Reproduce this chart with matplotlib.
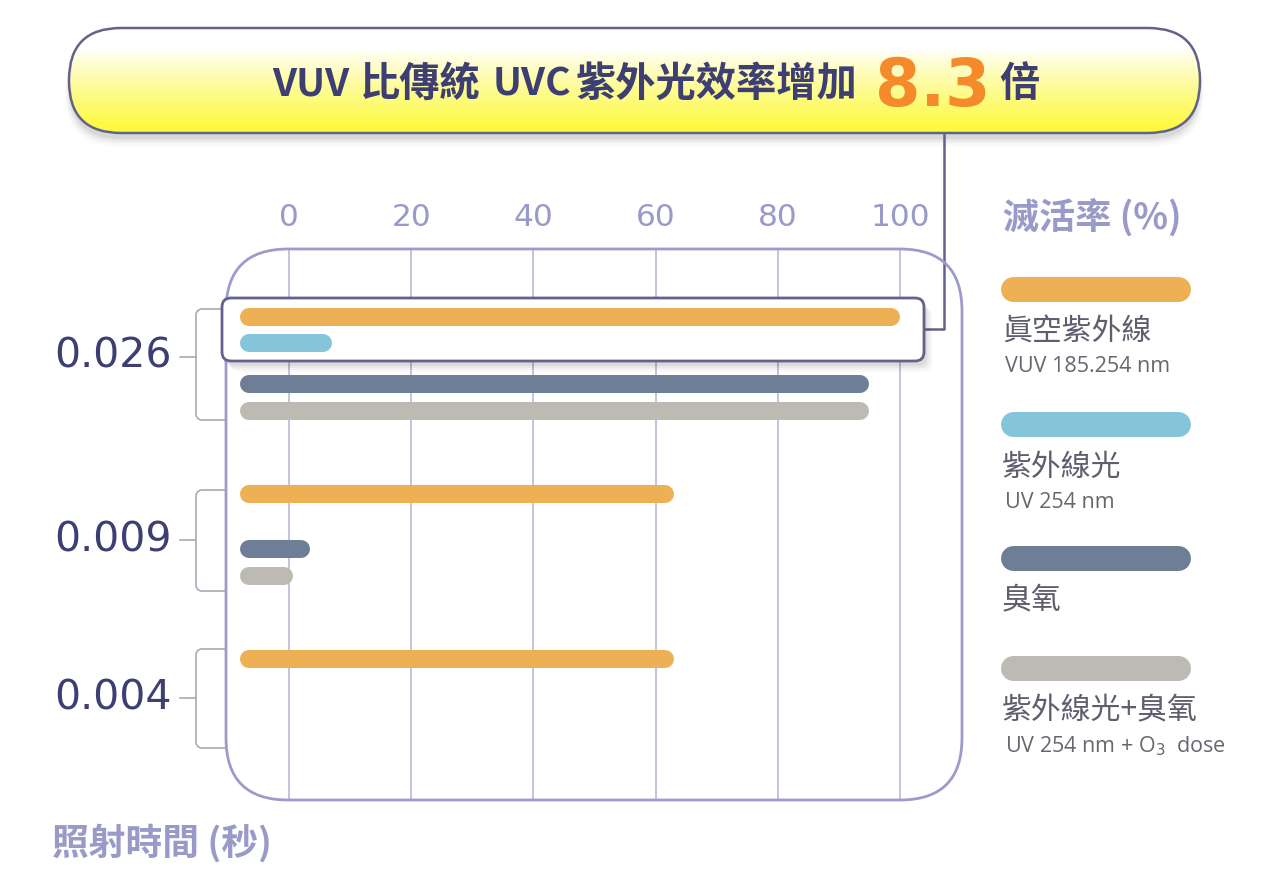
import matplotlib
matplotlib.use("Agg")
import matplotlib.pyplot as plt
import numpy as np
from matplotlib.patches import FancyBboxPatch
from matplotlib.colors import to_rgb

# ---------------- data ----------------
time_labels = ["0.026", "0.009", "0.004"]          # 照射時間 (秒)
series_names = ["眞空紫外線", "紫外線光", "臭氧", "紫外線光+臭氧"]
series_sub = ["VUV 185.254 nm", "UV 254 nm", "", "UV 254 nm + O$_3$  dose"]
# 滅活率 (%) per time group; None = not shown
vuv    = [100, 63, 63]
uv     = [7, None, None]
ozone  = [95, 3.5, None]
uv_o3  = [95, 0.7, None]
x_ticks = [0, 20, 40, 60, 80, 100]
title_words = ["VUV", "比傳統", "UVC", "紫外光效率增加"]
title_num = "8.3"
title_end = "倍"

# ---------------- style ----------------
C_VUV, C_UV, C_O3, C_UVO3 = "#edb054", "#85c5da", "#6f7e97", "#bcbab2"
colors = [C_VUV, C_UV, C_O3, C_UVO3]
NAVY = "#3d3f72"
LAV = "#9a9ac8"
FRAME = "#9c9ccb"
GRID = "#b3b3d6"
DARKB = "#62628a"
CJK = ["Noto Sans CJK TC", "DejaVu Sans"]

W, H = 1266, 885
fig = plt.figure(figsize=(W / 100, H / 100), dpi=100)
fig.patch.set_facecolor("white")

# overlay axes in pixel coordinates
ov = fig.add_axes([0, 0, 1, 1], zorder=0)
ov.set_xlim(0, W)
ov.set_ylim(H, 0)
ov.axis("off")

# data axes: x 0 -> 289px, 100 -> 900px
PX0, PXU = 289.0, 6.11
FL, FR, FT, FB = 226, 962, 249, 800
ax = fig.add_axes([FL / W, (H - FB) / H, (FR - FL) / W, (FB - FT) / H], zorder=1)
ax.set_xlim((FL - PX0) / PXU, (FR - PX0) / PXU)
ax.set_ylim(FB, FT)
ax.axis("off")
ax.patch.set_alpha(0)

# layout: bar rows (pixel rows) per group, per series
group_rows = [357, 540, 698]
row_offsets = [
    [-40, -14, 27, 54],
    [-46, None, 9, 36],
    [-39, None, None, None],
]
BAR_START = -8.0
BAR_PX = 18
cap = (BAR_PX / 2) / PXU

# frame (rounded)
frame = FancyBboxPatch((FL, FT), FR - FL, FB - FT,
                       boxstyle="round,pad=0,rounding_size=62",
                       fc="none", ec=FRAME, lw=2, transform=ov.transData,
                       zorder=3, clip_on=False)
ax.add_patch(frame)

# gridlines
for t in x_ticks:
    ax.plot([t, t], [FT, FB], color=GRID, lw=1.1, zorder=1, solid_capstyle="butt")
    ov.text(PX0 + t * PXU, 217, str(t), ha="center", va="center",
            fontsize=22.5, color=LAV, family="DejaVu Sans")

# highlight box with shadow
for k, a in enumerate([0.05, 0.04, 0.03, 0.02]):
    sh = FancyBboxPatch((222 + 3 + k * 2, 298 + 5 + k * 2), 702, 63,
                        boxstyle="round,pad=0,rounding_size=9", fc="#000000",
                        ec="none", alpha=a, transform=ov.transData, zorder=2,
                        clip_on=False)
    ax.add_patch(sh)
hb = FancyBboxPatch((222, 298), 702, 63, boxstyle="round,pad=0,rounding_size=9",
                    fc="white", ec=DARKB, lw=2, transform=ov.transData, zorder=4,
                    clip_on=False)
ax.add_patch(hb)

# bars
all_series = [vuv, uv, ozone, uv_o3]
for si, ser in enumerate(all_series):
    for gi, v in enumerate(ser):
        if v is None:
            continue
        y = group_rows[gi] + row_offsets[gi][si]
        ax.plot([BAR_START + cap, v - cap], [y, y], color=colors[si],
                lw=BAR_PX * 0.72, solid_capstyle="round", zorder=5)

# y labels + brackets
brackets = [(309, 420), (490, 591), (649, 748)]
for lab, yc, (b0, b1) in zip(time_labels, group_rows, brackets):
    ov.text(54, yc, lab, ha="left", va="center", fontsize=29.5, color=NAVY,
            family="DejaVu Sans")
    ov.plot([180, 196], [yc, yc], color="#a9a9b5", lw=1.2)
    r = 6
    tt = np.linspace(0, np.pi / 2, 10)
    path_x = [FL, 196 + r] + list(196 + r - r * np.sin(tt)) + [196, 196] + \
        list(196 + r - r * np.cos(tt)) + [196 + r, FL]
    path_y = [b0, b0] + list(b0 + r - r * np.cos(tt)) + [b0 + r, b1 - r] + \
        list(b1 - r + r * np.sin(tt)) + [b1, b1]
    ov.plot(path_x, path_y, color="#a9a9b5", lw=1.2)

ov.text(52, 843, "照射時間 (秒)", ha="left", va="center", fontsize=26.5,
        color=LAV, family=CJK, fontweight="bold")

# legend
ov.text(1003, 217, "滅活率 (%)", ha="left", va="center", fontsize=26,
        color=LAV, family=CJK, fontweight="bold")
leg_rows = [289, 424, 558, 668]
LEG_W0, LEG_W1, LEG_H = 1000, 1190, 25
for i, (nm, sub, y) in enumerate(zip(series_names, series_sub, leg_rows)):
    ov.plot([LEG_W0 + LEG_H / 2, LEG_W1 - LEG_H / 2], [y, y], color=colors[i],
            lw=LEG_H * 0.72, solid_capstyle="round")
    ov.text(1002, y + 43, nm, ha="left", va="center", fontsize=21.5,
            color="#5e5e6e", family=CJK)
    if sub:
        ov.text(1005, y + 78, sub, ha="left", va="center", fontsize=15.5,
                color="#66666f", family=["Open Sans", "DejaVu Sans"])

# title pill
PL, PR, PT, PB = 69, 1200, 28, 133
for k, a in enumerate([0.05, 0.04, 0.03, 0.02, 0.012]):
    sh = FancyBboxPatch((PL - k, PT + 6 + k * 2), PR - PL + 2 * k, PB - PT,
                        boxstyle="round,pad=0,rounding_size=52", fc="black",
                        ec="none", alpha=a, zorder=1)
    ov.add_patch(sh)
pill = FancyBboxPatch((PL, PT), PR - PL, PB - PT,
                      boxstyle="round,pad=0,rounding_size=52",
                      fc="none", ec=DARKB, lw=1.8, zorder=4)
ov.add_patch(pill)
n = 200
t = np.linspace(0, 1, n)
f = np.clip((t - 0.2) / 0.8, 0, 1) ** 0.85
top = np.array(to_rgb("#ffffff"))
bot = np.array(to_rgb("#fdf936"))
grad = (top[None, :] * (1 - f[:, None]) + bot[None, :] * f[:, None])
grad = np.repeat(grad[:, None, :], 2, axis=1)
im = ov.imshow(grad, extent=[PL, PR, PB, PT], aspect="auto", zorder=2,
               interpolation="bilinear")
clip = FancyBboxPatch((PL, PT), PR - PL, PB - PT,
                      boxstyle="round,pad=0,rounding_size=52",
                      fc="none", ec="none", transform=ov.transData)
ov.add_patch(clip)
im.set_clip_path(clip)
ov.set_xlim(0, W)
ov.set_ylim(H, 0)

# connector line
ov.plot([924, 944, 944], [329, 329, PB], color=DARKB, lw=1.8, zorder=3)

# title text (word by word)
base = 96
word_x = [272, 360, 493, 576]
word_fs = [28, 29, 28, 29]
for wd, wx, fs in zip(title_words, word_x, word_fs):
    ov.text(wx, base, wd, ha="left", va="baseline", fontsize=fs,
            color=NAVY, family=CJK, fontweight="bold", zorder=5)
ov.text(933, 106, title_num, ha="center", va="baseline", fontsize=47,
        color="#f58a2b", family="DejaVu Sans", fontweight="bold", zorder=5)
ov.text(999, base, title_end, ha="left", va="baseline", fontsize=29,
        color=NAVY, family=CJK, fontweight="bold", zorder=5)

fig.savefig("out.png", dpi=100)
